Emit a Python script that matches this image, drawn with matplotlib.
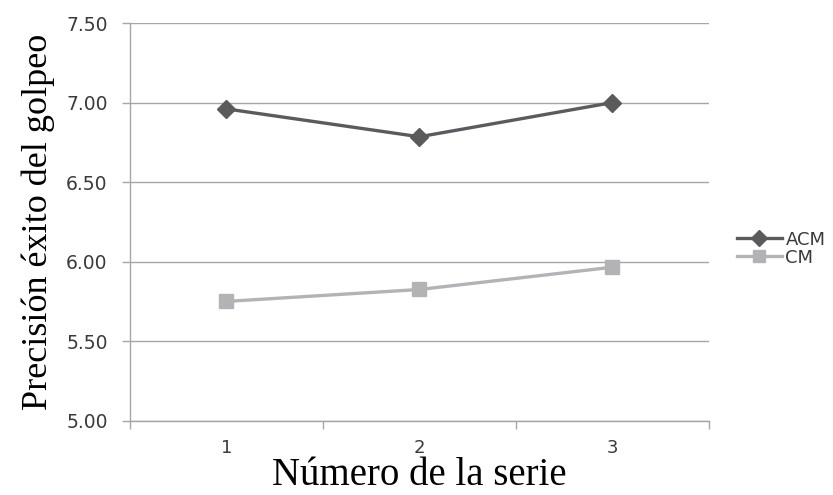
import matplotlib
matplotlib.use("Agg")
import matplotlib.pyplot as plt
from matplotlib.ticker import FixedLocator, NullFormatter

series_x = [1, 2, 3]
acm = [6.96, 6.785, 7.00]
cm = [5.75, 5.825, 5.965]
y_ticks = [5.00, 5.50, 6.00, 6.50, 7.00, 7.50]
x_labels = ["1", "2", "3"]

fig = plt.figure(figsize=(8.33, 4.95), dpi=100)
ax = fig.add_axes([0.156, 0.150, 0.695, 0.8035])

grid_c = "#a6a6a6"
text_c = "#3a3a3a"
ax.set_xlim(0.5, 3.5)
ax.set_ylim(5.0, 7.5)
ax.set_yticks(y_ticks)
ax.set_yticklabels([f"{v:.2f}" for v in y_ticks])
for v in y_ticks:
    ax.axhline(v, color=grid_c, lw=1.0, zorder=1)

ax.plot(series_x, acm, color="#5b5b5d", lw=2.4, marker="D", markersize=9,
        label="ACM", zorder=3)
ax.plot(series_x, cm, color="#b3b3b6", lw=2.4, marker="s", markersize=10.5,
        label="CM", zorder=3)

# category boundaries carry the tick marks, labels sit between them
ax.xaxis.set_major_locator(FixedLocator([0.5, 1.5, 2.5, 3.5]))
ax.xaxis.set_major_formatter(NullFormatter())
ax.xaxis.set_minor_locator(FixedLocator(series_x))
ax.set_xticklabels(x_labels, minor=True)
ax.tick_params(axis="x", which="major", length=6, color=grid_c, width=1)
ax.tick_params(axis="x", which="minor", length=0, pad=13, labelsize=13,
               labelcolor=text_c)
ax.tick_params(axis="y", length=6, color=grid_c, width=1, labelsize=13.5,
               labelcolor=text_c, pad=10)

for side in ("top", "right"):
    ax.spines[side].set_visible(False)
for side in ("left", "bottom"):
    ax.spines[side].set_color(grid_c)
    ax.spines[side].set_linewidth(1.0)

ax.set_xlabel("Número de la serie", family="Liberation Serif", fontsize=28,
              labelpad=0)
ax.set_ylabel("Precisión éxito del golpeo", family="Liberation Serif",
              fontsize=26, labelpad=8)

ax.legend(loc="center left", bbox_to_anchor=(1.048, 0.433), frameon=False,
          fontsize=13, handlelength=2.5, handletextpad=0.2,
          labelspacing=0.0, borderaxespad=0, borderpad=0,
          labelcolor=text_c, markerscale=0.85)

fig.savefig("out.png", dpi=100, facecolor="white")
